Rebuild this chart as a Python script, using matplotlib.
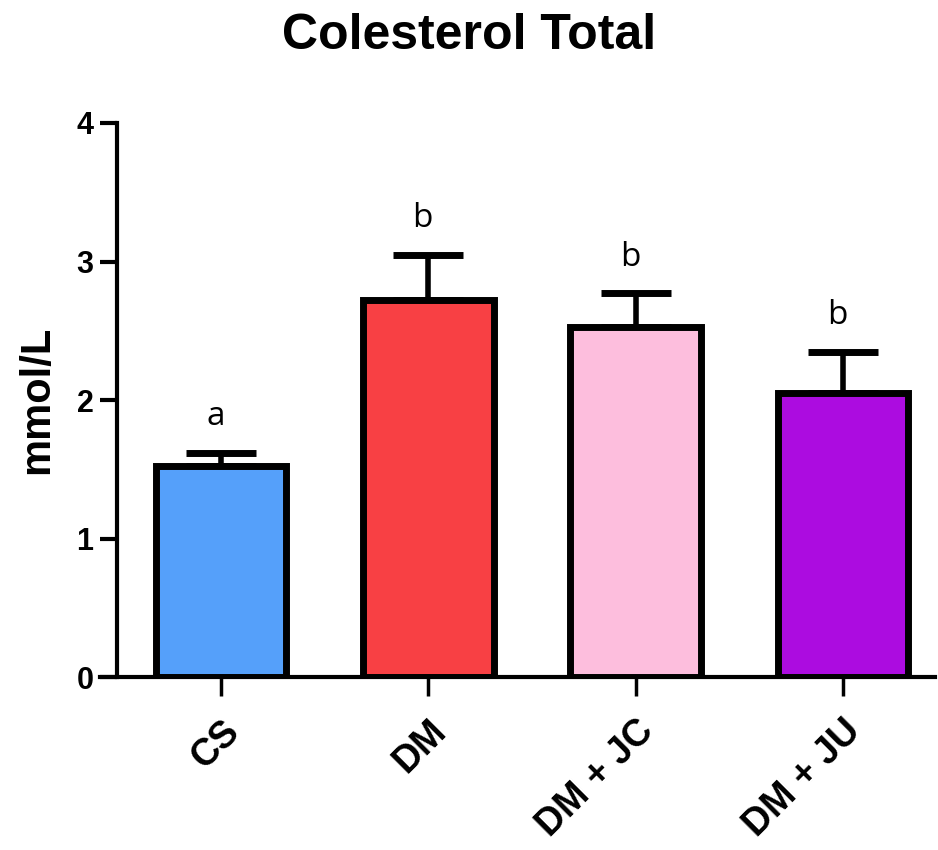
import matplotlib.pyplot as plt

groups = ["CS", "DM", "DM + JC", "DM + JU"]
means = [1.52, 2.72, 2.53, 2.05]
sem = [0.10, 0.33, 0.24, 0.30]
letters = ["a", "b", "b", "b"]
colors = ["#55A0FA", "#F84044", "#FDBEDD", "#AC0CE0"]

plt.rcParams["font.family"] = ["Liberation Sans", "DejaVu Sans"]

fig = plt.figure(figsize=(9.38, 8.5), dpi=100)
ax = fig.add_axes([0.1066, 0.2035, 0.8902, 0.6518])

x = list(range(len(groups)))
ax.bar(x, means, width=0.63, color=colors, edgecolor="black", linewidth=5, zorder=2)
ax.errorbar(x, means, yerr=[[0] * len(sem), sem], fmt="none", ecolor="black",
            elinewidth=4, capsize=25, capthick=5, zorder=1)

# significance letters above each error bar
for xi, m, s, lab in zip(x, means, sem, letters):
    ax.annotate(lab, (xi, m + s), xytext=(-4, 14), textcoords="offset points",
                ha="center", va="bottom", fontsize=24, family="Open Sans")

ax.set_xlim(-0.584, 3.444)
ax.set_ylim(0, 4)
ax.set_yticks([0, 1, 2, 3, 4])
ax.spines["left"].set_position(("data", -0.502))
ax.spines["left"].set_bounds(0, 4)
for side in ("top", "right"):
    ax.spines[side].set_visible(False)
for side in ("left", "bottom"):
    ax.spines[side].set_linewidth(3)

ax.tick_params(axis="y", length=12, width=3, labelsize=22, pad=5)
ax.tick_params(axis="x", length=14, width=2.5, labelsize=27, pad=12)
for t in ax.get_yticklabels():
    t.set_fontweight("bold")
ax.set_xticks(x)
ax.set_xticklabels(groups, rotation=45, ha="right", rotation_mode="anchor",
                   fontweight="bold")

ax.set_ylabel("mmol/L", fontsize=30, fontweight="bold", labelpad=14)
fig.suptitle("Colesterol Total", fontsize=36, fontweight="bold", y=0.985)

fig.savefig("out.png", dpi=100)
